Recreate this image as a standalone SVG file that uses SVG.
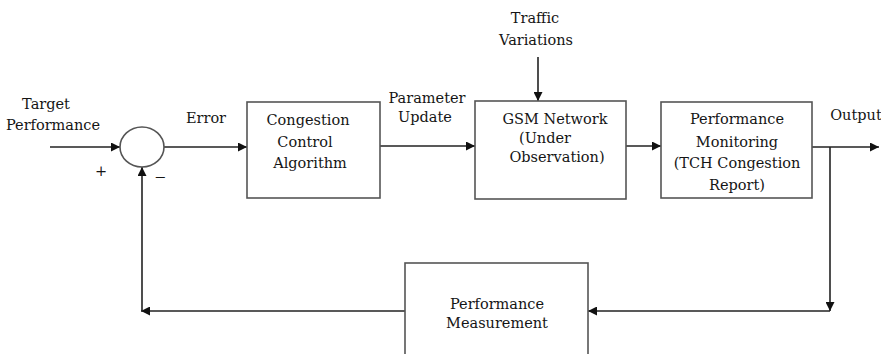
<svg xmlns="http://www.w3.org/2000/svg" width="881" height="354" viewBox="0 0 881 354">
<defs>
<marker id="ah" viewBox="0 0 10 10" refX="10" refY="5" markerWidth="9" markerHeight="9" markerUnits="userSpaceOnUse" orient="auto">
<path d="M0,0 L10,5 L0,10 z" fill="#111"/>
</marker>
<style>
.box{fill:#fff;stroke:#555;stroke-width:1.6}
.ar{fill:none;stroke:#222;stroke-width:1.6;marker-end:url(#ah)}
text{font-family:"DejaVu Serif","Liberation Serif",serif;font-size:14.5px;fill:#151515;text-anchor:middle}
</style>
</defs>
<rect width="881" height="354" fill="#fff"/>
<g id="connectors">
<line class="ar" x1="50" y1="147" x2="120" y2="147"/>
<line class="ar" x1="164" y1="147" x2="247" y2="147"/>
<line class="ar" x1="380" y1="146" x2="475" y2="146"/>
<line class="ar" x1="538" y1="57" x2="538" y2="101"/>
<line class="ar" x1="626" y1="146" x2="661" y2="146"/>
<line class="ar" x1="812" y1="147" x2="879" y2="147"/>
<line class="ar" x1="830" y1="147" x2="830" y2="311"/>
<line class="ar" x1="830" y1="311" x2="588" y2="311"/>
<line class="ar" x1="405" y1="311" x2="141" y2="311"/>
<line class="ar" x1="142" y1="311" x2="142" y2="167"/>
</g>
<g id="labels">
<text x="46" y="109">Target</text>
<text x="53" y="130">Performance</text>
<text x="206" y="123">Error</text>
<text x="101" y="176">+</text>
<text x="160" y="182">−</text>
<text x="427" y="103">Parameter</text>
<text x="425" y="122">Update</text>
<text x="535" y="23">Traffic</text>
<text x="536" y="45">Variations</text>
<text x="856" y="120">Output</text>
</g>
<g id="sum">
<ellipse class="box" cx="142" cy="147" rx="22" ry="20"/>
</g>
<g id="congestion-control">
<rect class="box" x="247" y="102" width="133" height="96"/>
<text x="308" y="125">Congestion</text>
<text x="305" y="147">Control</text>
<text x="310" y="168">Algorithm</text>
</g>
<g id="gsm-network">
<rect class="box" x="475" y="101" width="151" height="98"/>
<text x="555" y="124">GSM Network</text>
<text x="545" y="143">(Under</text>
<text x="557" y="162">Observation)</text>
</g>
<g id="performance-monitoring">
<rect class="box" x="661" y="102" width="151" height="96"/>
<text x="737" y="124">Performance</text>
<text x="737" y="147">Monitoring</text>
<text x="737" y="168">(TCH Congestion</text>
<text x="737" y="190">Report)</text>
</g>
<g id="performance-measurement">
<rect class="box" x="405" y="263" width="183" height="100"/>
<text x="497" y="309">Performance</text>
<text x="497" y="328">Measurement</text>
</g>
</svg>
